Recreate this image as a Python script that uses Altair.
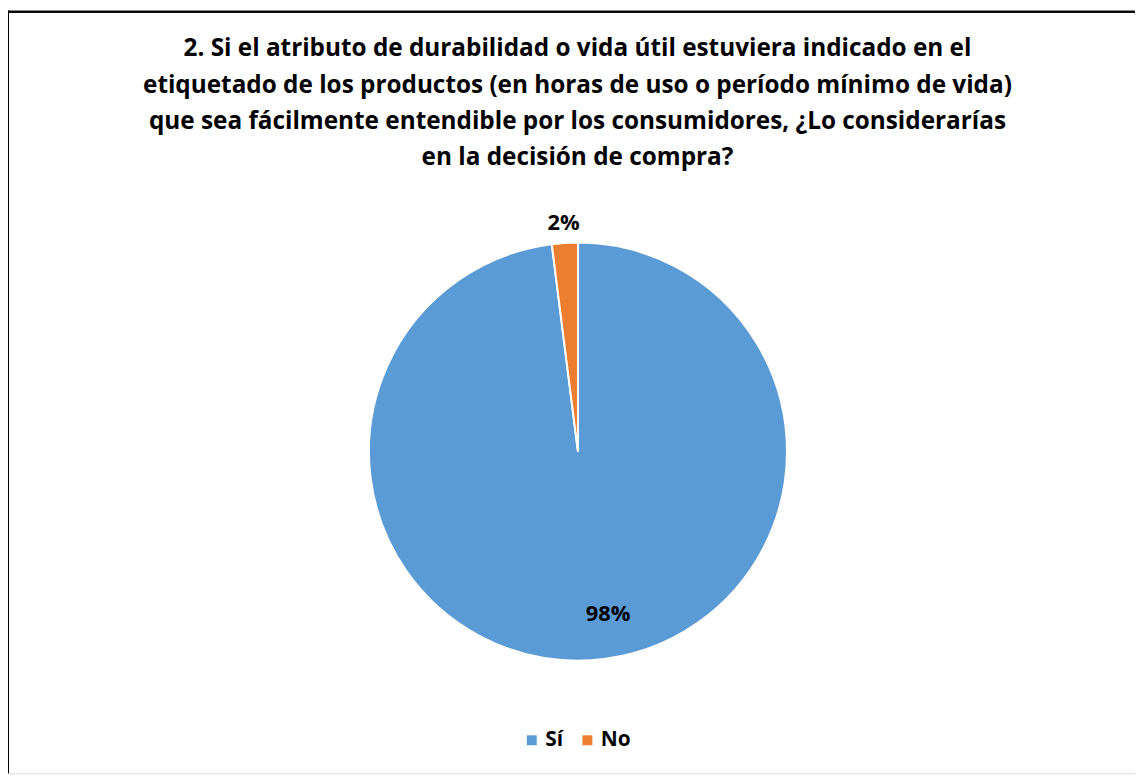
import altair as alt
import pandas as pd

categorias = ["Sí", "No"]
valores = [98, 2]
etiquetas = ["98%", "2%"]
colores = ["#5B9BD5", "#ED7D31"]
titulo = [
    "2. Si el atributo de durabilidad o vida útil estuviera indicado en el",
    "etiquetado de los productos (en horas de uso o período mínimo de vida)",
    "que sea fácilmente entendible por los consumidores, ¿Lo considerarías",
    "en la decisión de compra?",
]

df = pd.DataFrame({
    "respuesta": categorias,
    "valor": valores,
    "etiqueta": etiquetas,
    "orden": list(range(len(categorias))),
})

FONT = "Open Sans"
FS = 24.5
W, H = 1135, 768
CX, CY, R = 574, 444, 210.5

base = alt.Chart(df).encode(
    theta=alt.Theta("valor:Q", stack=True),
    order=alt.Order("orden:Q"),
    x=alt.value(CX),
    y=alt.value(CY),
)

arc = base.mark_arc(outerRadius=R, stroke="white", strokeWidth=2).encode(
    color=alt.Color(
        "respuesta:N",
        sort=categorias,
        scale=alt.Scale(domain=categorias, range=colores),
        legend=alt.Legend(
            title=None,
            orient="none",
            legendX=517,
            legendY=724,
            direction="horizontal",
            symbolType="square",
            symbolSize=100,
            symbolStrokeWidth=0,
            labelFont=FONT,
            labelFontSize=21,
            labelFontWeight="bold",
            labelColor="#000000",
            labelOffset=3,
            columnPadding=14,
        ),
    )
)

txt_no = base.mark_text(
    radius=231, font=FONT, fontSize=22, fontWeight="bold", color="#000000"
).encode(text=alt.condition("datum.respuesta == 'No'", "etiqueta:N", alt.value("")))

txt_si = base.mark_text(
    radius=164, dx=20, font=FONT, fontSize=22, fontWeight="bold", color="#000000"
).encode(text=alt.condition("datum.respuesta == 'Sí'", "etiqueta:N", alt.value("")))

borde_top = alt.Chart(df).mark_rule(color="#000000", strokeWidth=2).encode(
    x=alt.value(0), x2=alt.value(W), y=alt.value(1)
)
borde_left = alt.Chart(df).mark_rule(color="#000000", strokeWidth=2).encode(
    x=alt.value(0), y=alt.value(0), y2=alt.value(H)
)

chart = alt.layer(borde_top, borde_left, arc, txt_no, txt_si).properties(
    width=W,
    height=H,
    padding=0,
    autosize=alt.AutoSizeParams(type="none"),
    title=alt.TitleParams(
        text=titulo,
        font=FONT,
        fontSize=FS,
        fontWeight="bold",
        color="#000000",
        lineHeight=36.5,
        anchor="middle",
        offset=-162,
        dx=6,
    ),
).configure_view(stroke=None).configure(background="white")

chart.save("out.html", embed_options={"renderer": "svg", "actions": False})
